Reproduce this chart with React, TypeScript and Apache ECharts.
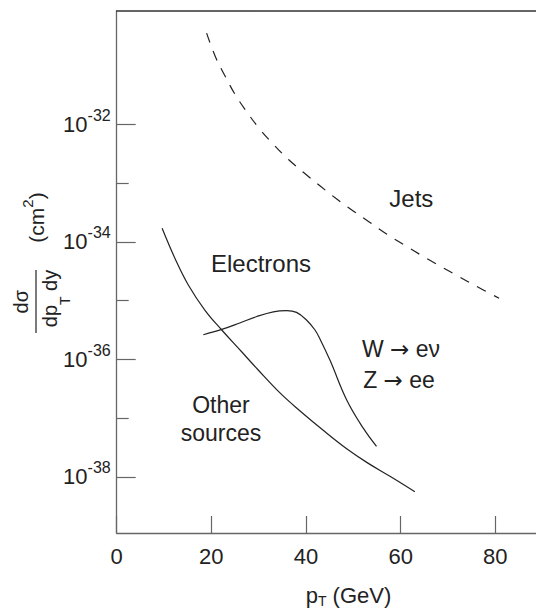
import React, { useEffect, useRef } from "react";
import * as echarts from "echarts";

// x axis: transverse momentum p_T (GeV)
const xTickValues = [0, 20, 40, 60, 80];
// y axis: log10 of dσ/(dp_T dy) in cm²
const yMajorExponents = [-38, -36, -34, -32];
const yMinorExponents = [-37, -35, -33];

// Jets (dashed)
const jetsPt = [19.0, 20.9, 22.9, 25.0, 27.5, 30.1, 33.1, 36.3, 39.5, 43.0, 46.3, 49.9, 53.5, 57.1, 60.8, 64.6, 68.5, 72.3, 76.0, 80.8];
const jetsLog10 = [-30.45, -30.86, -31.18, -31.49, -31.79, -32.07, -32.34, -32.6, -32.82, -33.05, -33.26, -33.47, -33.67, -33.87, -34.055, -34.24, -34.42, -34.59, -34.755, -34.96];

// Electrons from other sources
const otherPt = [9.6, 12.3, 15.1, 18.7, 22.2, 26.4, 29.9, 34.5, 38.5, 43.7, 48.6, 53.0, 58.0, 63.0];
const otherLog10 = [-33.77, -34.28, -34.73, -35.17, -35.50, -35.87, -36.18, -36.57, -36.86, -37.21, -37.52, -37.76, -38.00, -38.25];

// Electrons from W -> eν, Z -> ee
const wzPt = [18.3, 22.2, 26.0, 29.6, 33.1, 35.9, 38.0, 40.1, 41.9, 43.0, 45.1, 48.6, 52.1, 54.9];
const wzLog10 = [-35.58, -35.49, -35.38, -35.27, -35.19, -35.17, -35.20, -35.33, -35.50, -35.66, -36.02, -36.69, -37.17, -37.48];

const zip = (xs: number[], ys: number[]) => xs.map((x, i) => [x, ys[i]]);

export default function App() {
  const ref = useRef<HTMLDivElement>(null);
  useEffect(() => {
    const chart = echarts.init(ref.current!, null, { renderer: "svg" });
    const font = "'Liberation Sans', Arial, Helvetica, sans-serif";
    const arrowFont = "'DejaVu Sans', sans-serif";
    const ink = "#222";
    const axisColor = "#666";
    const xMin = 0;
    const xMax = 88.6;
    const yMin = -38.953;
    const yMax = -30.073;

    const lineSeries = (name: string, data: number[][], dashed: boolean) => ({
      name,
      type: "line",
      data,
      showSymbol: false,
      smooth: 0.4,
      lineStyle: { color: ink, width: 1.2, type: dashed ? [10, 9] : "solid" },
      silent: true,
    });

    const t = (fontSize: number, lineHeight: number, extra: Record<string, unknown> = {}) => ({
      fontSize,
      lineHeight,
      fontFamily: font,
      fill: ink,
      color: ink,
      ...extra,
    });

    chart.setOption({
      animation: false,
      backgroundColor: "#fff",
      grid: { left: 116.7, right: 0, top: 11, bottom: 79, containLabel: false },
      xAxis: [
        {
          type: "value",
          min: xMin,
          max: xMax,
          interval: 20,
          position: "bottom",
          axisLine: { onZero: false, lineStyle: { color: axisColor, width: 1.3 } },
          axisTick: { inside: true, length: 17, customValues: xTickValues, lineStyle: { color: axisColor, width: 1.2 } },
          axisLabel: { customValues: xTickValues, fontSize: 22, color: ink, fontFamily: font, margin: 12 },
          splitLine: { show: false },
        },
        {
          type: "value",
          min: xMin,
          max: xMax,
          position: "top",
          axisLine: { onZero: false, lineStyle: { color: "#333", width: 1.5 } },
          axisTick: { show: false },
          axisLabel: { show: false },
          splitLine: { show: false },
        },
      ],
      yAxis: [
        {
          type: "value",
          min: yMin,
          max: yMax,
          position: "left",
          axisLine: { show: true, onZero: false, lineStyle: { color: axisColor, width: 1.3 } },
          axisTick: { inside: true, length: 19, customValues: yMajorExponents, lineStyle: { color: axisColor, width: 1.2 } },
          axisLabel: {
            customValues: yMajorExponents,
            margin: 6,
            formatter: (v: number) => `{a|10}{b|${Math.round(v)}}`,
            rich: {
              a: { fontSize: 22, lineHeight: 34, color: ink, fontFamily: font },
              b: { fontSize: 16, lineHeight: 20, color: ink, fontFamily: font, verticalAlign: "top" },
            },
          },
          splitLine: { show: false },
        },
        {
          type: "value",
          min: yMin,
          max: yMax,
          position: "left",
          axisLine: { show: false },
          axisTick: { show: true, inside: true, length: 12, customValues: yMinorExponents, lineStyle: { color: axisColor, width: 1.2 } },
          axisLabel: { show: false },
          splitLine: { show: false },
        },
      ],
      series: [
        lineSeries("Jets", zip(jetsPt, jetsLog10), true),
        lineSeries("Other sources", zip(otherPt, otherLog10), false),
        lineSeries("W/Z", zip(wzPt, wzLog10), false),
      ],
      graphic: [
        // y axis title (rotated)
        {
          type: "text",
          x: 20.5,
          y: 301.7,
          rotation: Math.PI / 2,
          style: { text: "dσ", fontSize: 20, fontFamily: font, fill: ink, align: "center", verticalAlign: "middle" },
        },
        {
          type: "line",
          shape: { x1: 36, y1: 270, x2: 36, y2: 333 },
          style: { stroke: ink, lineWidth: 1.2 },
        },
        {
          type: "text",
          x: 49.5,
          y: 298.5,
          rotation: Math.PI / 2,
          style: {
            text: "{a|dp}{s|T}{a| dy}",
            rich: {
              a: t(20, 44),
              s: t(14, 18, { verticalAlign: "bottom" }),
            },
            align: "center",
            verticalAlign: "middle",
          },
        },
        {
          type: "text",
          x: 36,
          y: 217.5,
          rotation: Math.PI / 2,
          style: {
            text: "{a|(cm}{s|2}{a|)}",
            rich: {
              a: t(21, 33),
              s: t(15, 19, { verticalAlign: "top" }),
            },
            align: "center",
            verticalAlign: "middle",
          },
        },
        // x axis title
        {
          type: "text",
          x: 348.5,
          y: 595,
          style: {
            text: "{a|p}{s|T}{a| (GeV)}",
            rich: {
              a: t(22, 26),
              s: t(14, 14, { verticalAlign: "bottom" }),
            },
            align: "center",
            verticalAlign: "middle",
          },
        },
        // annotations
        {
          type: "text",
          x: 411.3,
          y: 198.7,
          style: { text: "Jets", fontSize: 24, fontFamily: font, fill: ink, align: "center", verticalAlign: "middle" },
        },
        {
          type: "text",
          x: 261,
          y: 263.8,
          style: { text: "Electrons", fontSize: 24, fontFamily: font, fill: ink, align: "center", verticalAlign: "middle" },
        },
        {
          type: "text",
          x: 401,
          y: 349,
          style: {
            text: "{a|W }{r|→}{a| eν}",
            rich: { a: t(23, 23), r: t(23, 23, { fontFamily: arrowFont }) },
            align: "center",
            verticalAlign: "middle",
          },
        },
        {
          type: "text",
          x: 399,
          y: 379.5,
          style: {
            text: "{a|Z }{r|→}{a| ee}",
            rich: { a: t(23, 23), r: t(23, 23, { fontFamily: arrowFont }) },
            align: "center",
            verticalAlign: "middle",
          },
        },
        {
          type: "text",
          x: 221,
          y: 419,
          style: { text: "Other\nsources", fontSize: 23, lineHeight: 28.5, fontFamily: font, fill: ink, align: "center", verticalAlign: "middle" },
        },
      ],
    });
    return () => chart.dispose();
  }, []);
  return <div ref={ref} style={{ position: "absolute", left: 0, top: 0, width: 536, height: 612 }} />;
}
